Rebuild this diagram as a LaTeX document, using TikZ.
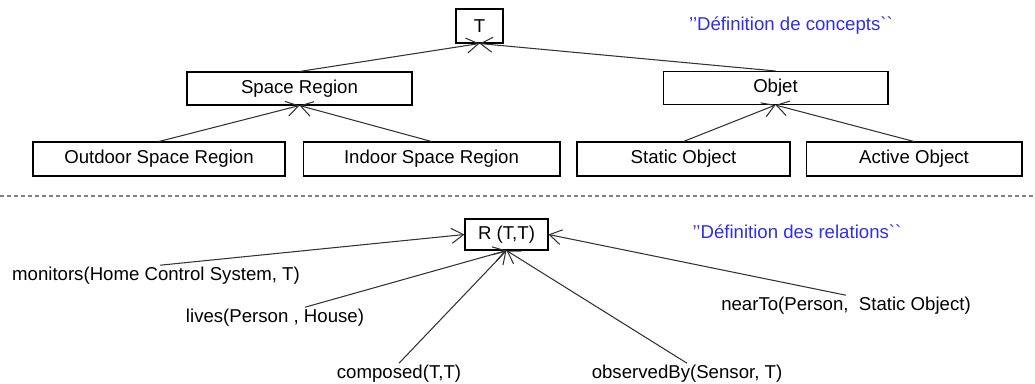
\documentclass[tikz,border=0pt]{standalone}
\usepackage{fontspec}
\setmainfont{Liberation Sans}
\usetikzlibrary{arrows.meta}

\definecolor{notecolor}{RGB}{45,45,245}
\definecolor{linecolor}{RGB}{50,50,50}

\tikzset{
  concept/.style={draw, line width=0.6pt, minimum height=0.66cm, inner sep=0pt},
  relation/.style={inner sep=1pt},
  note/.style={text=notecolor},
  link/.style={->, line width=0.6pt, draw=linecolor},
  >={Straight Barb[length=2.4mm,width=3mm]}
}

\begin{document}
\begin{tikzpicture}[x=0.02cm, y=-0.02cm, font=\fontsize{10.6}{12.7}\selectfont]
    \useasboundingbox (0,0) rectangle (1035,383);

    % concepts
    \node[concept, minimum width=0.94cm, minimum height=0.68cm] (top) at (479.5, 26) {T};
    \node[concept, minimum width=4.5cm] (space) at (299.5, 88.5) {Space Region};
    \node[concept, minimum width=4.5cm] (objet) at (775.5, 88) {Objet};
    \node[concept, minimum width=5.04cm, minimum height=0.68cm] (outdoor) at (159, 159) {Outdoor Space Region};
    \node[concept, minimum width=5.14cm, minimum height=0.68cm] (indoor) at (431.5, 159) {Indoor Space Region};
    \node[concept, minimum width=4.26cm, minimum height=0.68cm] (static) at (683.5, 159) {Static Object};
    \node[concept, minimum width=4.32cm, minimum height=0.68cm] (active) at (914, 159) {Active Object};

    \draw[link] (space.north) -- (top.south);
    \draw[link] (objet.north) -- (top.south);
    \draw[link] (outdoor.north) -- (space.south);
    \draw[link] (indoor.north) -- (space.south);
    \draw[link] (static.north) -- (objet.south);
    \draw[link] (active.north) -- (objet.south);

    \node[note] (conceptsnote) at (791, 26) {’’Définition de concepts\textasciigrave\textasciigrave};

    \draw[dashed, draw=gray, line width=0.6pt, dash pattern=on 0.08cm off 0.06cm] (0, 196) -- (1035, 196);

    % relations
    \node[concept, minimum width=1.66cm, minimum height=0.62cm] (rel) at (506.5, 234.5) {R (T,T)};
    \node[note] (relationsnote) at (797, 232) {’’Définition des relations\textasciigrave\textasciigrave};

    \node[relation] (monitors) at (156, 276) {monitors(Home Control System, T)};
    \node[relation] (lives) at (275, 318) {lives(Person , House)};
    \node[relation] (composed) at (399, 374) {composed(T,T)};
    \node[relation] (observed) at (687, 374) {observedBy(Sensor, T)};
    \node[relation] (near) at (846, 306) {nearTo(Person,~ Static Object)};

    \draw[link] ([xshift=0.08cm]monitors.north) -- (rel.west);
    \draw[link] ([xshift=0.6cm]lives.north) -- (rel.south);
    \draw[link] (composed.north) -- (rel.south);
    \draw[link] (observed.north) -- (rel.south);
    \draw[link] (near.north) -- (rel.east);
\end{tikzpicture}
\end{document}
